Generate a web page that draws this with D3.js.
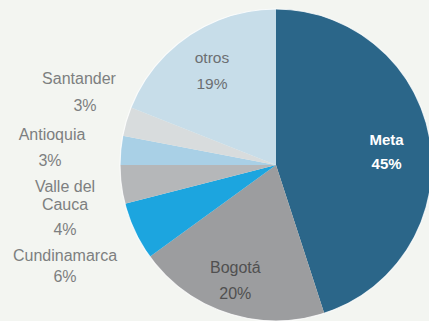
<!DOCTYPE html>
<html>
<head>
<meta charset="utf-8">
<script src="https://cdn.jsdelivr.net/npm/d3@7/dist/d3.min.js"></script>
<style>
  html, body { margin: 0; padding: 0; background: #f3f5f1; }
  svg { display: block; }
  text { font-family: "Liberation Sans", Arial, Helvetica, sans-serif; }
</style>
</head>
<body>
<svg id="chart" width="429" height="321"></svg>
<script>
// Share by department (percent), clockwise from 12 o'clock
const categories = ["Meta", "Bogotá", "Cundinamarca", "Valle del Cauca", "Antioquia", "Santander", "otros"];
const shares = [45, 20, 6, 4, 3, 3, 19];
const sliceColors = ["#2b6689", "#9c9d9f", "#1ca5df", "#b5b7b9", "#a9d0e6", "#d8dcdd", "#c7dde9"];

const W = 429, H = 321;
const cx = 276, cy = 165, R = 156;

const svg = d3.select("#chart");
svg.append("rect").attr("width", W).attr("height", H).attr("fill", "#f3f5f1");

const data = categories.map((c, i) => ({ name: c, value: shares[i], color: sliceColors[i] }));

const pie = d3.pie().sort(null).value(d => d.value).startAngle(0).endAngle(2 * Math.PI);
const arcs = pie(data);

const arc = d3.arc().innerRadius(0).outerRadius(R);
const g = svg.append("g").attr("transform", `translate(${cx},${cy})`);

g.selectAll("path.slice")
  .data(arcs)
  .join("path")
  .attr("class", "slice")
  .attr("d", arc)
  .attr("fill", d => d.data.color);

// thin light rim around the disc
g.append("circle").attr("r", R).attr("fill", "none").attr("stroke", "#ffffff").attr("stroke-width", 1.2).attr("opacity", 0.8);

// labels drawn inside the large slices
const inside = {
  "Meta":   { r: 112, dx: 0,  dy: 5, gap: 24, fill: "#ffffff", weight: "bold", size: 15 },
  "Bogotá": { r: 122, dx: -3, dy: 0, gap: 26, fill: "#505050", weight: "normal", size: 16 },
  "otros":  { r: 114, dx: 0,  dy: 0, gap: 26, fill: "#6c6f72", weight: "normal", size: 15.5 }
};
const fmt = v => v + "%";

arcs.filter(a => inside[a.data.name]).forEach(a => {
  const s = inside[a.data.name];
  const c = d3.arc().innerRadius(s.r).outerRadius(s.r).centroid(a);
  const x = c[0] + s.dx, y = c[1] + s.dy;
  const t = g.append("text")
    .attr("text-anchor", "middle")
    .attr("fill", s.fill).attr("font-weight", s.weight).attr("font-size", s.size);
  t.append("tspan").attr("x", x).attr("y", y - s.gap / 2 + 5).text(a.data.name);
  t.append("tspan").attr("x", x).attr("y", y + s.gap / 2 + 5).text(fmt(a.data.value));
});

// labels set out to the left of the small slices
const outside = {
  "Santander":       { lines: [[79, 84], [85, 111]] },
  "Antioquia":       { lines: [[52, 140], [50, 166]] },
  "Valle del Cauca": { lines: [[65, 192], [65, 210], [65, 235]], split: ["Valle del", "Cauca"] },
  "Cundinamarca":    { lines: [[65, 261], [65, 282]] }
};

arcs.filter(a => outside[a.data.name]).forEach(a => {
  const o = outside[a.data.name];
  const words = o.split ? o.split : [a.data.name];
  const texts = words.concat([fmt(a.data.value)]);
  texts.forEach((txt, i) => {
    svg.append("text")
      .attr("x", o.lines[i][0]).attr("y", o.lines[i][1])
      .attr("text-anchor", "middle")
      .attr("font-size", 16)
      .attr("fill", "#7d7f80")
      .text(txt);
  });
});
</script>
</body>
</html>
